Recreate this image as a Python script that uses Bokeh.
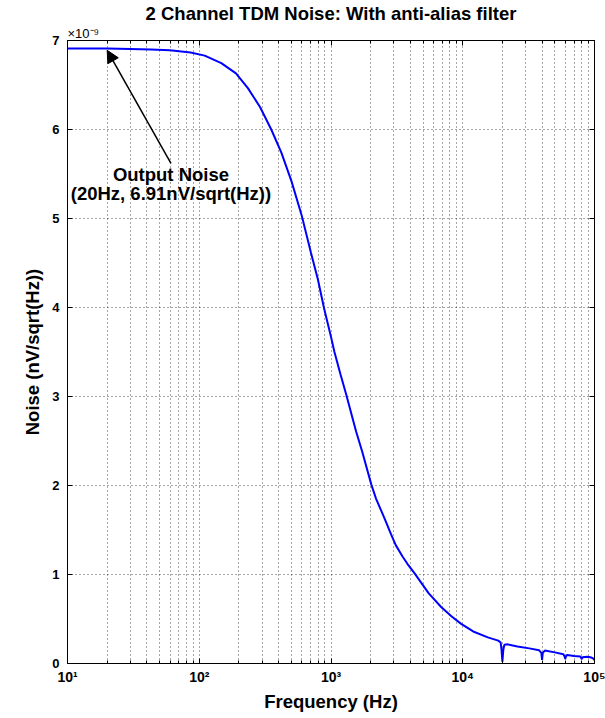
from bokeh.plotting import figure
from bokeh.models import FixedTicker, LogAxis, LinearAxis, Title, Arrow, NormalHead
from bokeh.core.properties import value
from bokeh.embed import file_html
from bokeh.resources import INLINE

# ---- data ----
freq_hz = [10, 15, 20, 30, 43, 60, 86, 110, 147, 190, 234, 290, 352, 420, 501, 600,
           703, 794, 883, 1000, 1062, 1180, 1306, 1549, 1726, 2024, 2200, 2400, 2600,
           2858, 3100, 3500, 3800, 4325, 5500, 6855, 8200, 9727, 12000, 15500, 18600,
           19400, 19700, 20000, 20300, 20700, 22000, 26000, 32000, 38000, 39500, 40000,
           40500, 42000, 50000, 58000, 59300, 60000, 60700, 62000, 70000, 78000, 80000,
           81000, 88000, 93000, 97000, 100000]
noise_nv = [6.91, 6.91, 6.91, 6.905, 6.90, 6.89, 6.865, 6.83, 6.745, 6.63, 6.465, 6.25,
            6.00, 5.74, 5.42, 5.03, 4.62, 4.32, 4.00, 3.67, 3.50, 3.25, 3.02, 2.61,
            2.38, 2.01, 1.85, 1.72, 1.60, 1.45, 1.33, 1.20, 1.12, 1.01, 0.79, 0.635,
            0.53, 0.445, 0.36, 0.294, 0.257, 0.235, 0.15, 0.02, 0.15, 0.21, 0.215, 0.19,
            0.17, 0.148, 0.12, 0.04, 0.12, 0.145, 0.125, 0.105, 0.08, 0.05, 0.08, 0.095,
            0.085, 0.08, 0.05, 0.07, 0.075, 0.07, 0.06, 0.04]

x_ticks = [10, 100, 1000, 10000, 100000]
x_tick_labels = ["10¹", "10²", "10³", "10⁴", "10⁵"]
x_minor_ticks = [m * d for d in [10, 100, 1000, 10000] for m in range(2, 10)]
y_ticks = [0, 1, 2, 3, 4, 5, 6, 7]
y_exponent_text = "×10⁻⁹"

annot_freq = 20
annot_noise = 6.91
annot_lines = ["Output Noise", "(20Hz, 6.91nV/sqrt(Hz))"]
annot_text_freq = 61
annot_text_noise = [5.49, 5.28]
arrow_tail_noise = 5.62

title_text = "2 Channel TDM Noise: With anti-alias filter"
x_label = "Frequency (Hz)"
y_label = "Noise (nV/sqrt(Hz))"

FONT = "Liberation Sans"

p = figure(width=605, height=718, x_axis_type="log", x_range=(10, 1e5), y_range=(0, 7),
           output_backend="svg", toolbar_location=None,
           min_border_left=67, min_border_right=11, min_border_top=37, min_border_bottom=55)
p.background_fill_color = "white"
p.border_fill_color = "white"
p.outline_line_color = "black"
p.outline_line_width = 1

xt = FixedTicker(ticks=x_ticks, minor_ticks=x_minor_ticks)
yt = FixedTicker(ticks=y_ticks)

xa = p.xaxis[0]
xa.ticker = xt
xa.major_label_overrides = {t: l for t, l in zip(x_ticks, x_tick_labels)}
ya = p.yaxis[0]
ya.ticker = yt

for ax in (xa, ya):
    ax.major_tick_in = 5
    ax.major_tick_out = 0
    ax.minor_tick_in = 3
    ax.minor_tick_out = 0
    ax.axis_line_color = "black"
    ax.major_tick_line_color = "black"
    ax.minor_tick_line_color = "black"
    ax.major_label_text_font = FONT
    ax.major_label_text_font_style = "bold"
    ax.major_label_text_color = "black"
    ax.axis_label_text_font = FONT
    ax.axis_label_text_font_style = "bold"
    ax.axis_label_text_font_size = "18.5px"
    ax.axis_label_text_color = "black"
ya.minor_tick_line_color = None
xa.major_label_text_font_size = "14px"
ya.major_label_text_font_size = "13px"
xa.major_label_standoff = 5
ya.major_label_standoff = 8
xa.axis_label = x_label
ya.axis_label = y_label
xa.axis_label_standoff = 3
ya.axis_label_standoff = 6

# mirrored box ticks
top = LogAxis(ticker=xt, major_label_text_color=None, major_label_text_font_size="1px",
              major_tick_in=5, major_tick_out=0, minor_tick_in=3, minor_tick_out=0,
              major_label_standoff=0, axis_line_color="black")
right = LinearAxis(ticker=yt, major_label_text_color=None, major_label_text_font_size="1px",
                   major_tick_in=5, major_tick_out=0, minor_tick_line_color=None,
                   major_label_standoff=0, axis_line_color="black")
p.add_layout(top, "above")
p.add_layout(right, "right")

# exponent of the y axis, just above the plot's top-left corner
p.add_layout(Title(text=y_exponent_text, align="left", text_font=FONT, text_font_size="13px",
                   text_font_style="normal", text_color="black", standoff=0, offset=0),
             "above")

p.title.text = title_text
p.title.align = "center"
p.title.text_font = FONT
p.title.text_font_size = "18.5px"
p.title.text_font_style = "bold"
p.title.text_color = "black"
p.title.offset = 0
p.title.standoff = 0

for g in (p.xgrid[0], p.ygrid[0]):
    g.grid_line_color = "#111111"
    g.grid_line_dash = "1 3"
    g.grid_line_alpha = 0.75
p.xgrid[0].ticker = xt
p.ygrid[0].ticker = yt
p.xgrid[0].minor_grid_line_color = "#111111"
p.xgrid[0].minor_grid_line_dash = "1 3"
p.xgrid[0].minor_grid_line_alpha = 0.75

p.line(freq_hz, noise_nv, line_color="#0000ff", line_width=2)

p.add_layout(Arrow(end=NormalHead(size=12, fill_color="black", line_color="black"),
                   x_start=annot_text_freq, y_start=arrow_tail_noise,
                   x_end=annot_freq, y_end=annot_noise - 0.02,
                   line_color="black", line_width=1.5))
p.text(x=[annot_text_freq] * 2, y=annot_text_noise, text=annot_lines,
       text_font=value(FONT), text_font_style="bold", text_font_size="18.5px",
       text_align="center", text_baseline="middle", text_color="black")

open("out.html", "w").write(file_html(p, INLINE))
